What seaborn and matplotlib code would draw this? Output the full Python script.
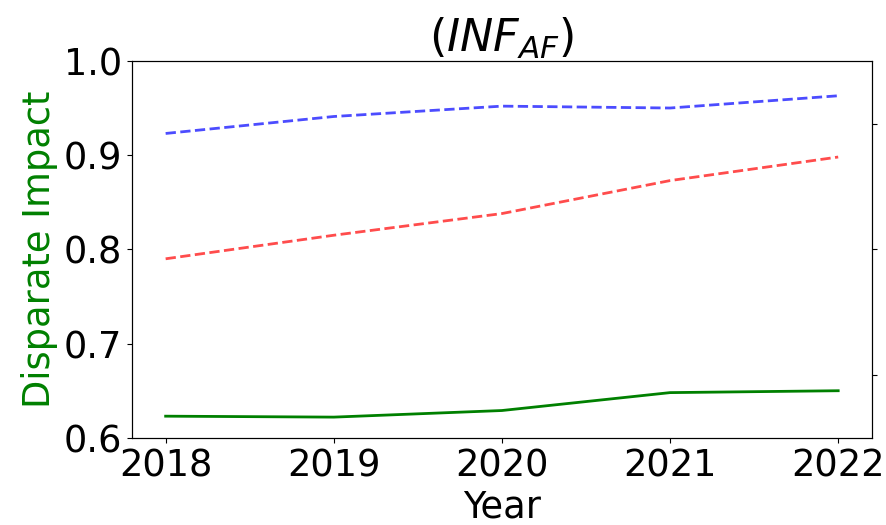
import matplotlib
matplotlib.use("Agg")
import matplotlib.pyplot as plt
import seaborn as sns
import pandas as pd

years = [2018, 2019, 2020, 2021, 2022]
di_upper = [0.923, 0.941, 0.952, 0.950, 0.963]
di_middle = [0.790, 0.815, 0.838, 0.873, 0.898]
di_actual = [0.623, 0.622, 0.629, 0.648, 0.650]
y_ticks = [0.6, 0.7, 0.8, 0.9, 1.0]
twin_ticks = [0.0, 0.1, 0.2]

df = pd.DataFrame({"Year": years, "upper": di_upper,
                   "middle": di_middle, "actual": di_actual})

fig = plt.figure(figsize=(8.86, 5.25), dpi=100)
ax = fig.add_axes([0.149, 0.166, 0.835, 0.718])

sns.lineplot(data=df, x="Year", y="upper", ax=ax, color="blue",
             linestyle="--", alpha=0.7, linewidth=2)
sns.lineplot(data=df, x="Year", y="middle", ax=ax, color="red",
             linestyle="--", alpha=0.7, linewidth=2)
sns.lineplot(data=df, x="Year", y="actual", ax=ax, color="green",
             linewidth=2)

ax.set_ylim(0.6, 1.0)
ax.set_yticks(y_ticks)
ax.set_xticks(years)
ax.set_xticklabels([str(y) for y in years])
ax.tick_params(axis="both", labelsize=26.5)
ax.set_xlabel("Year", fontsize=26.5, labelpad=3)
ax.set_ylabel("Disparate Impact", fontsize=26.5, color="green")
ax.set_title(r"$(INF_{AF})$", fontsize=32, pad=4)

ax2 = ax.twinx()
ax2.set_ylim(-0.05, 0.25)
ax2.set_yticks(twin_ticks)
ax2.tick_params(axis="y", labelright=False)

fig.savefig("out.png", dpi=100)
